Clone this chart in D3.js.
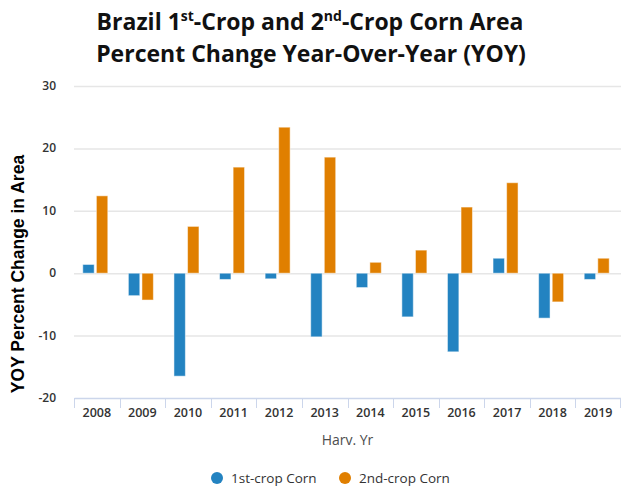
<!DOCTYPE html>
<html>
<head>
<meta charset="utf-8">
<script src="https://cdn.jsdelivr.net/npm/d3@7"></script>
<style>
  body { margin: 0; background: #fff; }
  svg { font-family: "Open Sans", "DejaVu Sans", sans-serif; }
</style>
</head>
<body>
<svg class="chart"></svg>
<script>
var years = ["2008", "2009", "2010", "2011", "2012", "2013", "2014", "2015", "2016", "2017", "2018", "2019"];
var firstCrop = [1.4, -3.6, -16.5, -1.0, -0.9, -10.2, -2.3, -7.0, -12.6, 2.4, -7.2, -1.0];
var secondCrop = [12.4, -4.3, 7.5, 17.0, 23.4, 18.6, 1.75, 3.7, 10.6, 14.5, -4.6, 2.4];
var seriesNames = ["1st-crop Corn", "2nd-crop Corn"];
var yTicks = [-20, -10, 0, 10, 20, 30];

var colors = ["#2383c1", "#e07f00"];

var W = 621, H = 486;
var margin = {top: 86, right: 0, bottom: 88, left: 74};

var chart = d3.select(".chart")
    .attr("width", W)
    .attr("height", H);

var x = d3.scaleBand()
    .domain(years)
    .range([margin.left, W - margin.right]);

var x1 = d3.scaleBand()
    .domain([0, 1])
    .range([0, 25])
    .paddingInner(0.16);

var y = d3.scaleLinear()
    .domain([-20, 30])
    .range([H - margin.bottom, margin.top]);

// grid
chart.append("g")
    .selectAll("line")
    .data(yTicks.filter(function(d) { return d > -20; }))
  .enter().append("line")
    .attr("x1", margin.left)
    .attr("x2", W - margin.right)
    .attr("y1", function(d) { return y(d) + 0.5; })
    .attr("y2", function(d) { return y(d) + 0.5; })
    .attr("stroke", "#e6e6e6")
    .attr("stroke-width", 1.5);

// y labels
chart.append("g")
    .selectAll("text")
    .data(yTicks)
  .enter().append("text")
    .attr("x", 56)
    .attr("y", function(d) { return y(d) + 4; })
    .attr("text-anchor", "end")
    .style("font-size", "12px")
    .style("font-weight", "600")
    .style("fill", "#333")
    .text(function(d) { return d; });

// bars
var rows = years.map(function(yr, i) { return {year: yr, vals: [firstCrop[i], secondCrop[i]]}; });

var groups = chart.append("g")
    .selectAll("g")
    .data(rows)
  .enter().append("g")
    .attr("transform", function(d) { return "translate(" + (x(d.year) + x.bandwidth() / 2 - 14) + ",0)"; });

groups.selectAll("rect")
    .data(function(d) { return d.vals; })
  .enter().append("rect")
    .attr("x", function(d, i) { return x1(i); })
    .attr("width", x1.bandwidth())
    .attr("y", function(d) { return y(Math.max(0, d)); })
    .attr("height", function(d) { return Math.abs(y(d) - y(0)); })
    .attr("fill", function(d, i) { return colors[i]; })
    .attr("stroke", "#fff")
    .attr("stroke-opacity", 0.5)
    .attr("stroke-width", 1);

// x axis
var xAxis = d3.axisBottom(x).tickSize(0).tickPadding(10);
var xg = chart.append("g")
    .attr("transform", "translate(0," + y(-20) + ")")
    .call(xAxis);
xg.select(".domain").attr("stroke", "#ccd6eb").attr("stroke-width", 1.5);
xg.selectAll("text")
    .style("font-size", "12.5px")
    .style("font-weight", "600")
    .style("fill", "#333")
    .style("font-family", "\"Open Sans\", sans-serif");
chart.append("g")
    .selectAll("line")
    .data(years.concat(["end"]))
  .enter().append("line")
    .attr("x1", function(d) { return d === "end" ? W - margin.right - 0.5 : Math.round(x(d)) + 0.5; })
    .attr("x2", function(d) { return d === "end" ? W - margin.right - 0.5 : Math.round(x(d)) + 0.5; })
    .attr("y1", y(-20))
    .attr("y2", y(-20) + 10)
    .attr("stroke", "#ccd6eb");

chart.append("text")
    .attr("x", (margin.left + W - margin.right) / 2)
    .attr("y", 445)
    .attr("text-anchor", "middle")
    .style("font-size", "14px")
    .style("fill", "#4d4d4d")
    .text("Harv. Yr");

// y title
chart.append("text")
    .attr("transform", "translate(24," + 274 + ") rotate(-90)")
    .attr("text-anchor", "middle")
    .style("font-size", "17.5px")
    .style("font-weight", "bold")
    .style("font-family", "\"Liberation Sans\", Arial, sans-serif")
    .style("fill", "#000")
    .text("YOY Percent Change in Area");

// title
var t1 = chart.append("text")
    .attr("x", 310)
    .attr("y", 30)
    .attr("text-anchor", "middle")
    .style("font-size", "23px")
    .style("font-weight", "bold")
    .style("fill", "#111");
t1.append("tspan").text("Brazil 1");
t1.append("tspan").attr("dy", -9).style("font-size", "14px").text("st");
t1.append("tspan").attr("dy", 9).text("-Crop and 2");
t1.append("tspan").attr("dy", -9).style("font-size", "14px").text("nd");
t1.append("tspan").attr("dy", 9).text("-Crop Corn Area");

chart.append("text")
    .attr("x", 311)
    .attr("y", 62)
    .attr("text-anchor", "middle")
    .style("font-size", "23px")
    .style("font-weight", "bold")
    .style("fill", "#111")
    .text("Percent Change Year-Over-Year (YOY)");

// legend
var legendX = [217, 345];
var lg = chart.append("g")
    .selectAll("g")
    .data(seriesNames)
  .enter().append("g")
    .attr("transform", function(d, i) { return "translate(" + legendX[i] + ",478)"; });
lg.append("circle")
    .attr("r", 6)
    .attr("fill", function(d, i) { return colors[i]; });
lg.append("text")
    .attr("x", 14)
    .attr("y", 5)
    .style("font-size", "13.5px")
    .style("fill", "#333")
    .text(function(d) { return d; });
</script>
</body>
</html>
